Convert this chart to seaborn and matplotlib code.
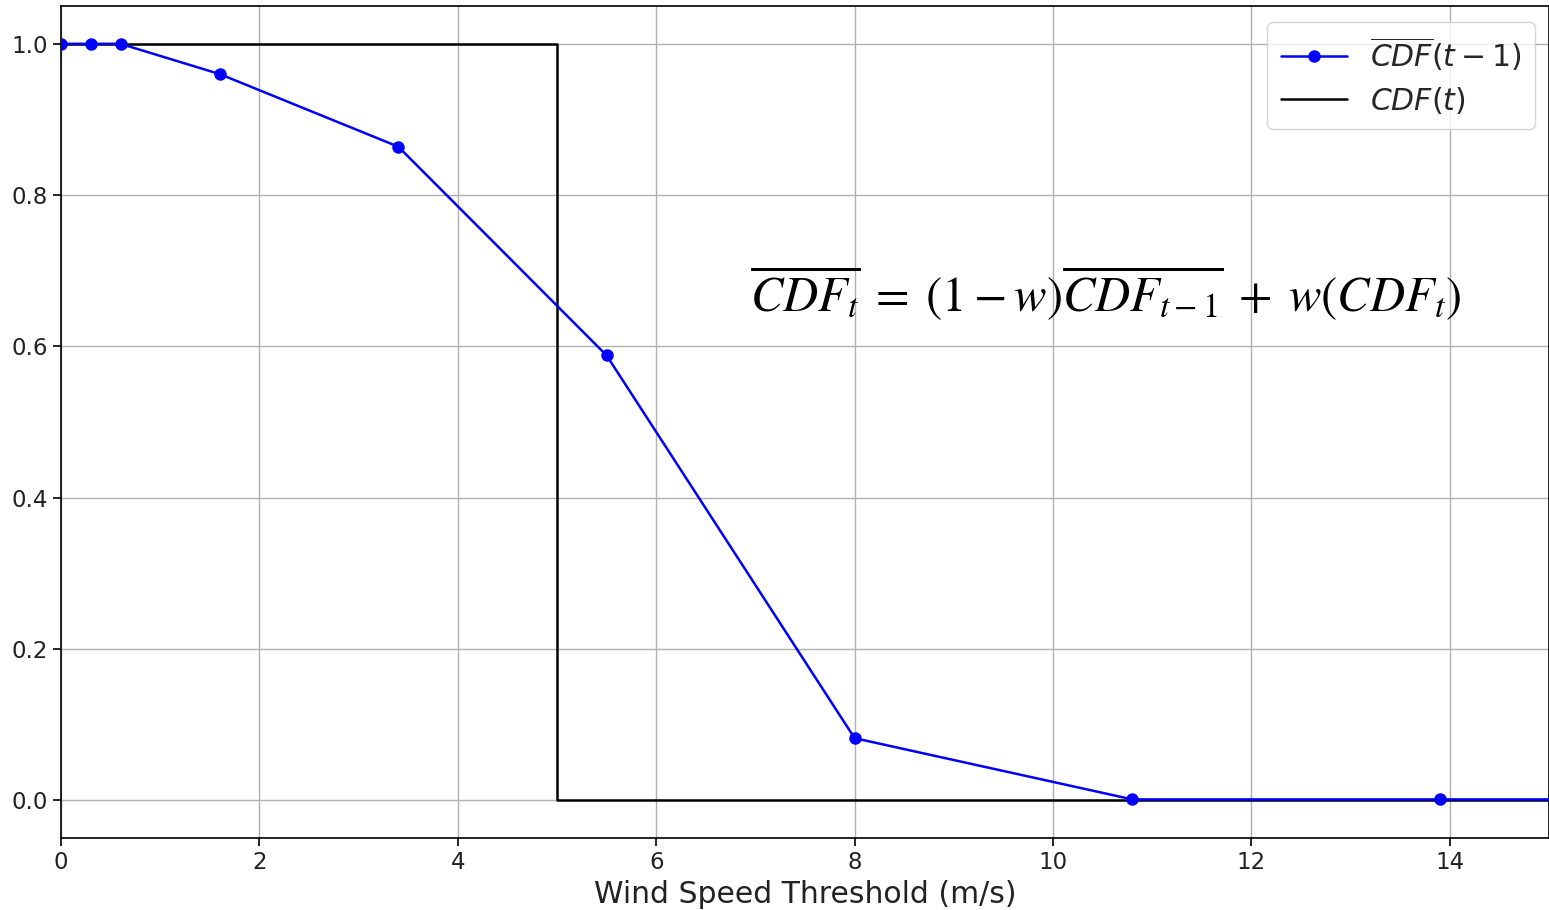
import matplotlib
matplotlib.use("Agg")
import matplotlib.pyplot as plt
import seaborn as sns
import pandas as pd

# Smoothed CDF from the previous time step, sampled at the observed thresholds
prev_speed = [0.0, 0.3, 0.6, 1.6, 3.4, 5.5, 8.0, 10.8, 13.9, 17.0]
prev_cdf = [1.0, 1.0, 1.0, 0.96, 0.864, 0.588, 0.082, 0.001, 0.001, 0.001]

# Current (step) CDF
curr_speed = [0.0, 5.0, 15.0]
curr_cdf = [1.0, 0.0, 0.0]

x_ticks = [0, 2, 4, 6, 8, 10, 12, 14]
y_ticks = [0.0, 0.2, 0.4, 0.6, 0.8, 1.0]

sns.set_theme(style="ticks")
plt.rcParams["font.family"] = ["DejaVu Sans"]

fig = plt.figure(figsize=(15.49, 9.10), dpi=100)
ax = fig.add_axes([61 / 1549, 1 - 838 / 910, (1549 - 61) / 1549, (838 - 6) / 910])

prev_df = pd.DataFrame({"speed": prev_speed, "cdf": prev_cdf})
curr_df = pd.DataFrame({"speed": curr_speed, "cdf": curr_cdf})

sns.lineplot(data=prev_df, x="speed", y="cdf", ax=ax, color="blue", marker="o",
             markersize=9, markeredgewidth=0, linewidth=1.8, sort=False,
             label=r"$\overline{CDF}(t-1)$", zorder=3)
sns.lineplot(data=curr_df, x="speed", y="cdf", ax=ax, color="black",
             drawstyle="steps-post", linewidth=1.8, sort=False,
             label=r"$CDF(t)$", zorder=2)

ax.set_xlim(0, 15)
ax.set_ylim(-0.05, 1.05)
ax.set_xticks(x_ticks)
ax.set_yticks(y_ticks)
ax.set_xticklabels([str(t) for t in x_ticks])
ax.set_yticklabels([f"{t:.1f}" for t in y_ticks])
ax.tick_params(labelsize=16.5, length=6, width=1.2, color="black", labelcolor="#222222")
ax.grid(True, color="#b0b0b0", linewidth=1.0)
ax.set_axisbelow(True)
for s in ax.spines.values():
    s.set_color("black")
    s.set_linewidth(1.2)

ax.set_xlabel("Wind Speed Threshold (m/s)", fontsize=21.5, color="#222222", labelpad=4)
ax.set_ylabel("")

leg = ax.legend(loc="upper right", fontsize=21.5, frameon=True, framealpha=0.8,
                edgecolor="#cccccc", handlelength=2.2, borderpad=0.45,
                labelspacing=0.4, borderaxespad=0,
                bbox_to_anchor=(0.9906, 0.981))
leg.get_frame().set_linewidth(1.0)

ax.text(0.463, 0.655,
        r"$\overline{CDF_t}\;=\;(1-w)\overline{CDF_{t-1}}\;+\;w(CDF_t)$",
        transform=ax.transAxes, fontsize=35, math_fontfamily="stix",
        color="black", ha="left", va="center")

fig.savefig("out.png", dpi=100)
